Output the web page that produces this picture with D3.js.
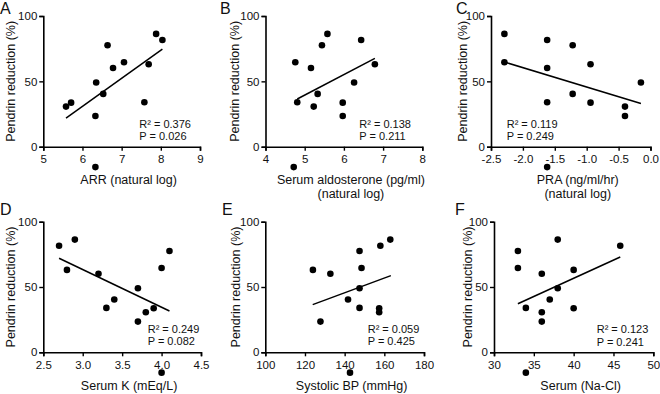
<!DOCTYPE html>
<html>
<head>
<meta charset="utf-8">
<script src="https://cdn.jsdelivr.net/npm/d3@7"></script>
<style>
  body { margin: 0; background: #fff; }
  svg { display: block; font-family: "Liberation Sans", Arial, sans-serif; }
</style>
</head>
<body>
<svg id="chart" width="660" height="394"></svg>
<script>
// pendrin reduction (%) per patient, same order in every panel
const pendrin = [86.3, 81.6, 77.6, 64.6, 63.1, 60.2, 49.1, 40.4, 34, 33.7, 30.7, 23.5, -15.6];

const arr = [7.88, 8.04, 6.64, 7.06, 7.69, 6.78, 6.35, 6.53, 7.58, 5.71, 5.58, 6.33, 6.33];
const aldosterone = [5.58, 6.44, 5.44, 4.76, 6.79, 5.16, 6.26, 5.33, 4.81, 5.97, 5.23, 5.97, 4.72];
const pra = [-2.29, -1.62, -1.22, -2.29, -0.94, -1.62, -0.15, -1.22, -1.62, -0.94, -0.40, -0.40, -1.62];
const serumK = [2.9, 2.7, 4.1, 4.0, 2.8, 3.2, 3.7, 3.4, 3.3, 3.9, 3.8, 3.7, 4.0];
const systolic = [163, 158, 147.5, 148.5, 124, 132.8, 147.5, 141.7, 147.5, 157.4, 157.4, 127.8, 142.7];
const naCl = [38, 45.85, 33, 33, 40, 36, 38, 37, 34, 40, 36, 36, 34];

// fitted line ends: [x0, y0, x1, y1]
const fitA = [5.58, 21.9, 8.04, 74.7];
const fitB = [4.81, 36.5, 6.79, 67.6];
const fitC = [-2.29, 64.8, -0.15, 33];
const fitD = [2.7, 72, 4.1, 31.6];
const fitE = [123.9, 36.5, 163.3, 58.7];
const fitF = [33, 37.2, 45.85, 73];

const r2Values = ['0.376', '0.138', '0.119', '0.249', '0.059', '0.123'];
const pValues = ['0.026', '0.211', '0.249', '0.082', '0.425', '0.241'];

const letters = ['A', 'B', 'C', 'D', 'E', 'F'];
const xTitles = [
  ['ARR (natural log)'],
  ['Serum aldosterone (pg/ml)', '(natural log)'],
  ['PRA (ng/ml/hr)', '(natural log)'],
  ['Serum K (mEq/L)'],
  ['Systolic BP (mmHg)'],
  ['Serum (Na-Cl)']
];
const xTicks = [
  [5, 6, 7, 8, 9],
  [4, 5, 6, 7, 8],
  [-2.5, -2.0, -1.5, -1.0, -0.5, 0.0],
  [2.5, 3.0, 3.5, 4.0, 4.5],
  [100, 120, 140, 160, 180],
  [30, 35, 40, 45, 50]
];
const yTicks = [0, 50, 100];
const yTitle = 'Pendrin reduction (%)';

const xSeries = [arr, aldosterone, pra, serumK, systolic, naCl];
const fits = [fitA, fitB, fitC, fitD, fitE, fitF];
const tickFmt = [d3.format('d'), d3.format('d'), d => d.toFixed(1), d => d.toFixed(1), d3.format('d'), d3.format('d')];

// layout (pixels)
const layout = [
  { x0: 43.3, x1: 200, top: 16, bottom: 146.7, letter: [0, 14], stat: [139.3, 127.8], yt: 15 },
  { x0: 265.5, x1: 422.3, top: 16, bottom: 146.7, letter: [220, 14], stat: [359.3, 127.8], yt: 239 },
  { x0: 491, x1: 650.5, top: 16, bottom: 146.7, letter: [456, 14], stat: [506.7, 127.8], yt: 467 },
  { x0: 43.3, x1: 201, top: 221.7, bottom: 352.3, letter: [0, 215], stat: [147.7, 332.5], yt: 15 },
  { x0: 265.3, x1: 424, top: 221.7, bottom: 352.3, letter: [222, 215], stat: [367.7, 332.5], yt: 240 },
  { x0: 494, x1: 653.3, top: 221.7, bottom: 352.3, letter: [455, 215], stat: [596.7, 333], yt: 472 }
];

const svg = d3.select('#chart');

layout.forEach((L, i) => {
  const ticks = xTicks[i];
  const x = d3.scaleLinear().domain([ticks[0], ticks[ticks.length - 1]]).range([L.x0, L.x1]);
  const y = d3.scaleLinear().domain([0, 100]).range([L.bottom, L.top]);

  const g = svg.append('g').classed('panel', true);

  // axes
  const xAxis = g.append('g')
    .attr('transform', `translate(0,${L.bottom})`)
    .call(d3.axisBottom(x).tickValues(ticks).tickFormat(tickFmt[i]).tickSize(4).tickPadding(3));
  const yAxis = g.append('g')
    .attr('transform', `translate(${L.x0},0)`)
    .call(d3.axisLeft(y).tickValues(yTicks).tickSize(4).tickPadding(2));

  [xAxis, yAxis].forEach(a => {
    a.select('.domain').attr('stroke', '#000').attr('stroke-width', 1.6);
    a.selectAll('.tick line').attr('stroke', '#000').attr('stroke-width', 1.4);
    a.selectAll('.tick text').attr('fill', '#111').style('font-size', '11.5px');
  });
  xAxis.selectAll('.tick text').attr('dy', '0.85em');

  // regression line
  const f = fits[i];
  g.append('line')
    .attr('x1', x(f[0])).attr('y1', y(f[1]))
    .attr('x2', x(f[2])).attr('y2', y(f[3]))
    .attr('stroke', '#000').attr('stroke-width', 1.5);

  // points
  g.selectAll('circle')
    .data(xSeries[i].map((v, k) => [v, pendrin[k]]))
    .join('circle')
    .attr('cx', d => x(d[0]))
    .attr('cy', d => y(d[1]))
    .attr('r', 3.3)
    .attr('fill', '#000');

  // stats
  g.append('text')
    .attr('x', L.stat[0]).attr('y', L.stat[1])
    .style('font-size', '11px').attr('fill', '#111')
    .text('R\u00b2 = ' + r2Values[i]);
  g.append('text')
    .attr('x', L.stat[0]).attr('y', L.stat[1] + 12.5)
    .style('font-size', '11px').attr('fill', '#111')
    .text('P = ' + pValues[i]);

  // x title
  xTitles[i].forEach((t, j) => {
    g.append('text')
      .attr('x', (L.x0 + L.x1) / 2 + 7)
      .attr('y', L.bottom + 37.5 + j * 14.2)
      .attr('text-anchor', 'middle')
      .style('font-size', '12.5px').attr('fill', '#111')
      .text(t);
  });

  // y title
  g.append('text')
    .attr('transform', `translate(${L.yt},${(L.top + L.bottom) / 2}) rotate(-90)`)
    .attr('text-anchor', 'middle')
    .style('font-size', '12.5px').attr('fill', '#111')
    .text(yTitle);

  // panel letter
  g.append('text')
    .attr('x', L.letter[0]).attr('y', L.letter[1])
    .style('font-size', '16px').attr('fill', '#111')
    .text(letters[i]);
});
</script>
</body>
</html>
